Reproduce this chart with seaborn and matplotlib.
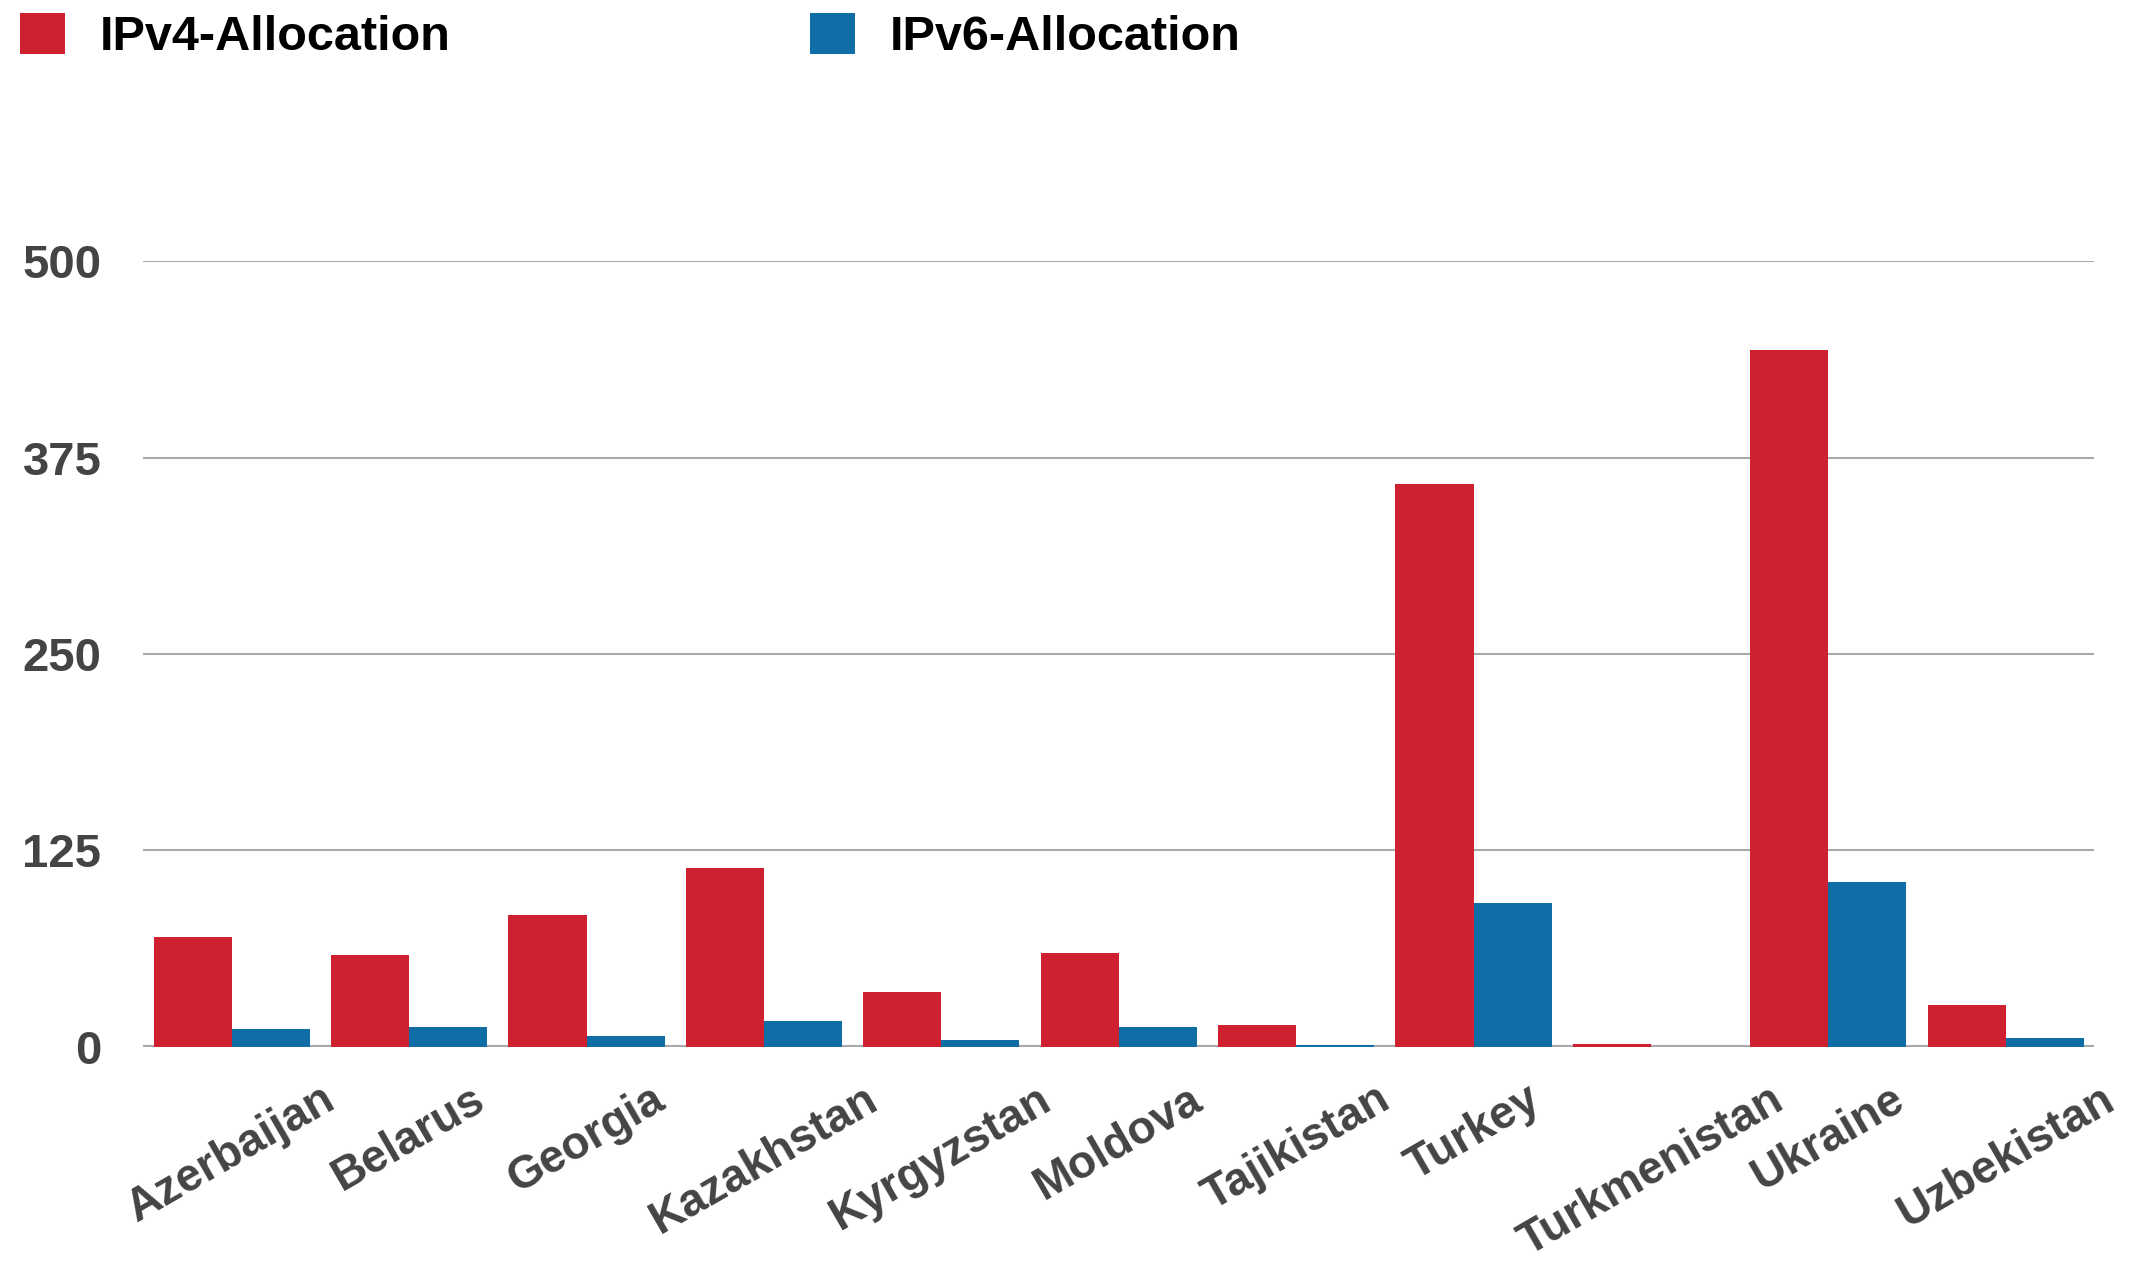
import numpy as np
import pandas as pd
import matplotlib.pyplot as plt
import seaborn as sns

maat = ["Azerbaijan", "Belarus", "Georgia", "Kazakhstan", "Kyrgyzstan", "Moldova",
        "Tajikistan", "Turkey", "Turkmenistan", "Ukraine", "Uzbekistan"]
ipv4 = [69.8, 58.4, 83.8, 113.6, 34.9, 59.6, 14.0, 358.4, 1.9, 443.7, 26.6]
ipv6 = [11.4, 12.7, 7.0, 16.5, 4.4, 12.7, 1.0, 91.4, 0.0, 104.7, 5.7]
sarjat = ["IPv4-Allocation", "IPv6-Allocation"]
varit = ["#CF202F", "#106EA6"]
y_tikit = [0, 125, 250, 375, 500]

data = pd.DataFrame({
    "Maa": maat + maat,
    "Arvo": ipv4 + ipv6,
    "Sarja": [sarjat[0]] * len(maat) + [sarjat[1]] * len(maat),
})

sns.set_style("white")
plt.rcParams["font.family"] = ["Liberation Sans", "DejaVu Sans"]

fig = plt.figure(figsize=(21.35, 12.75), dpi=100)
ax = fig.add_axes([0.067, 0.179, 0.914, 0.616])

sns.barplot(data=data, x="Maa", y="Arvo", hue="Sarja", palette=varit,
            width=0.88, saturation=1, linewidth=0, ax=ax)

ax.set_ylim(0, 500)
ax.set_xlim(-0.5, len(maat) - 0.5)
ax.set_yticks(y_tikit)
ax.set_axisbelow(True)
ax.yaxis.grid(True, color="#aaaaaa", linewidth=1.5)
ax.axhline(0, color="#aaaaaa", linewidth=3, zorder=0.5)
sns.despine(ax=ax, left=True, bottom=True)
ax.set_xlabel("")
ax.set_ylabel("")
ax.tick_params(axis="y", length=0, pad=30, labelsize=34, labelcolor="#444444")
ax.tick_params(axis="x", length=0, pad=22, labelsize=33, labelcolor="#444444",
               labelrotation=30)
for t in ax.get_xticklabels() + ax.get_yticklabels():
    t.set_fontweight("bold")

kahvat, nimet = ax.get_legend_handles_labels()
ax.get_legend().remove()
selite = fig.legend(kahvat, nimet, loc="upper left",
                    bbox_to_anchor=(0.0094, 1 - 13 / 1275), ncol=2,
                    frameon=False, handlelength=0.92, handleheight=0.92,
                    handletextpad=0.72, columnspacing=7.4, borderaxespad=0,
                    borderpad=0,
                    prop={"family": ["Liberation Sans Narrow", "Liberation Sans"],
                          "weight": "bold", "size": 35})
for t in selite.get_texts():
    t.set_color("black")

fig.savefig("out.png", dpi=100)
